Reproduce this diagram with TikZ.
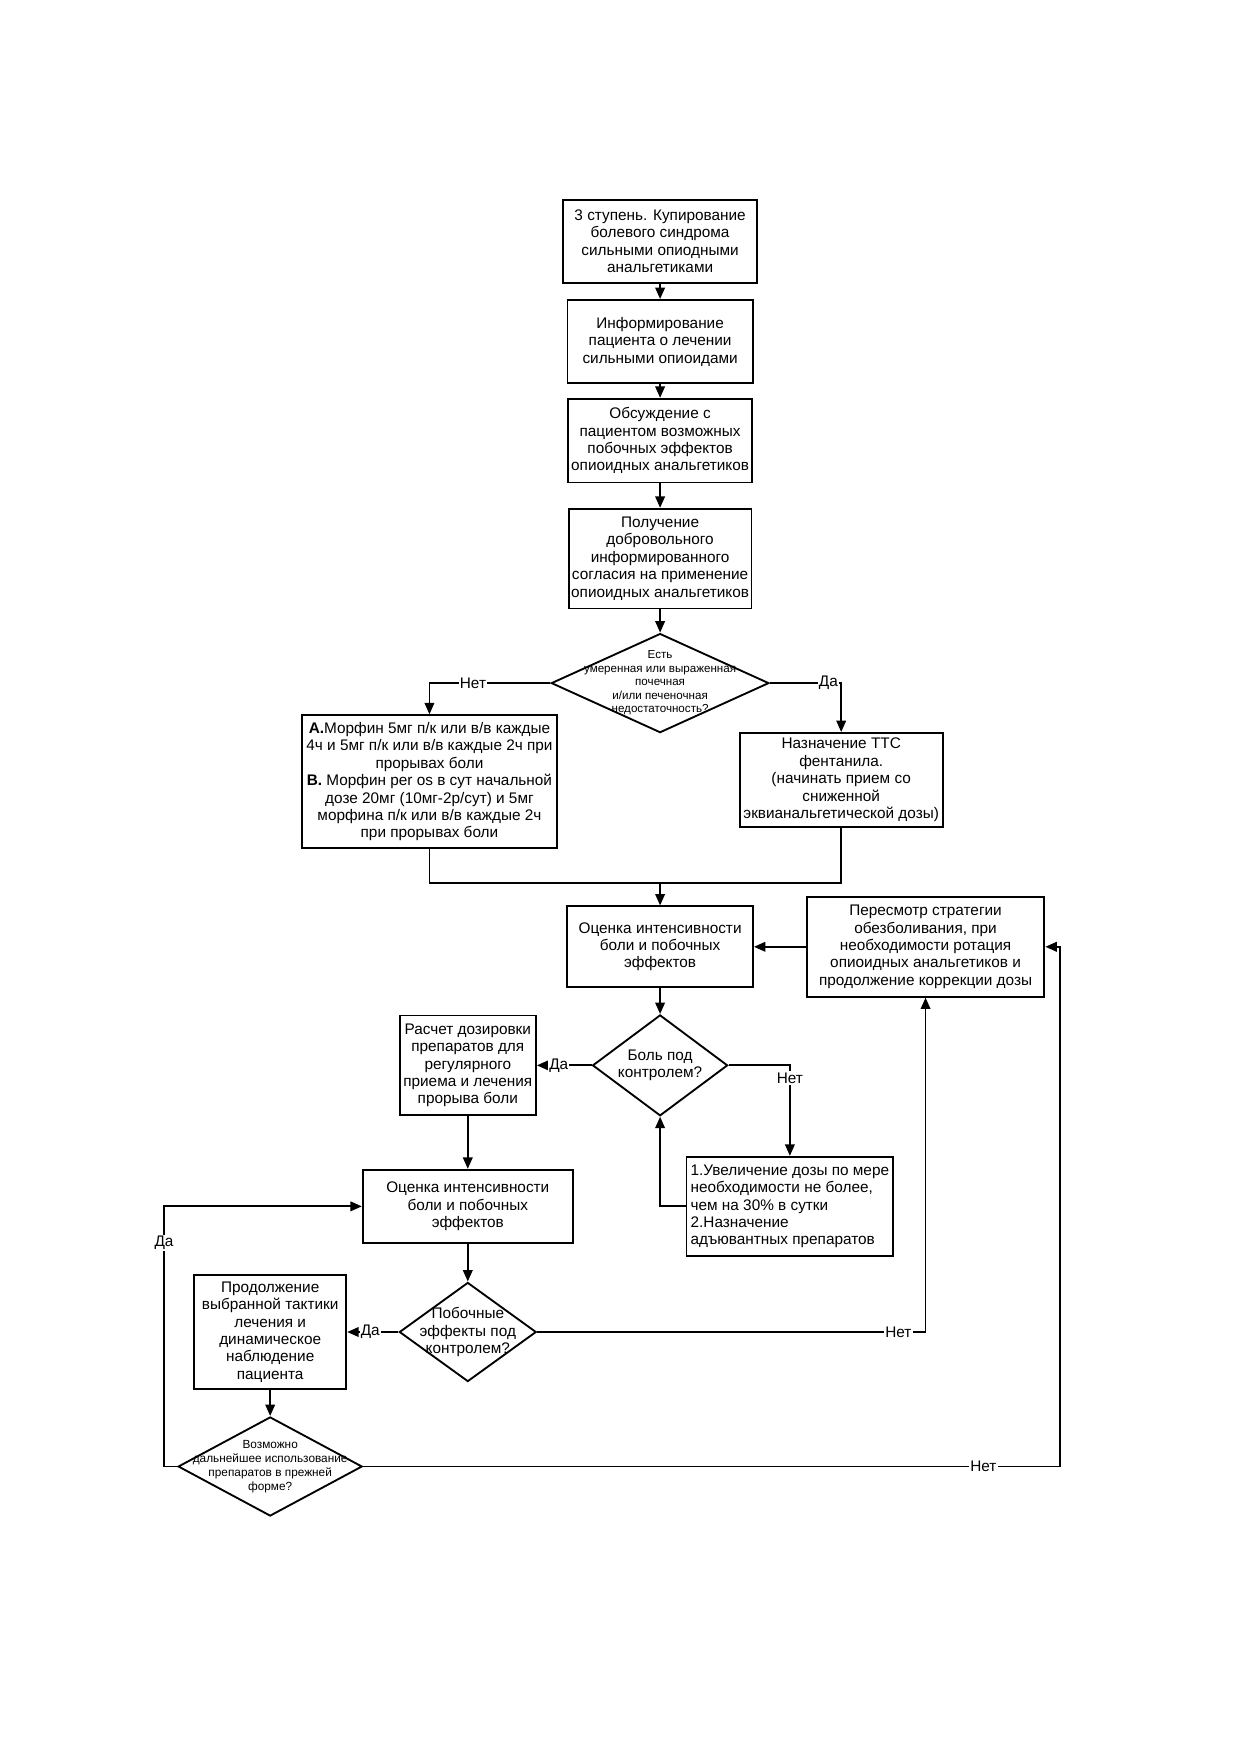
\documentclass[tikz,border=0pt]{standalone}
\usepackage{fontspec}
\setmainfont{Liberation Sans}
\usetikzlibrary{shapes.geometric,arrows.meta}

\tikzset{
  stage/.style={draw, line width=0.9pt, align=center, inner xsep=1pt, inner ysep=2pt,
    font=\fontsize{7.4}{8.4}\selectfont},
  decision/.style={draw, diamond, line width=0.9pt, inner sep=0pt},
  dectext/.style={align=center, inner sep=0pt, font=\fontsize{5.6}{6.5}\selectfont},
  answer/.style={fill=white, inner sep=0.6pt, font=\fontsize{7.4}{8.4}\selectfont},
  flow/.style={line width=0.9pt, -{Triangle[length=5.5pt,width=4.6pt]}},
  link/.style={line width=0.9pt}
}

\begin{document}
\begin{tikzpicture}
  \useasboundingbox (0,0) rectangle (21,-29.7);

  % main column
  \node[stage, minimum width=3.29cm, minimum height=1.41cm] (step3) at (11.19,-4.09)
    {3 ступень. Купирование\\болевого синдрома\\сильными опиодными\\анальгетиками};
  \node[stage, minimum width=3.14cm, minimum height=1.41cm] (inform) at (11.19,-5.79)
    {Информирование\\пациента о лечении\\сильными опиоидами};
  \node[stage, minimum width=3.12cm, minimum height=1.42cm] (discuss) at (11.19,-7.47)
    {Обсуждение с\\пациентом возможных\\побочных эффектов\\опиоидных анальгетиков};
  \node[stage, minimum width=3.10cm, minimum height=1.69cm] (consent) at (11.19,-9.47)
    {Получение\\добровольного\\информированного\\согласия на применение\\опиоидных анальгетиков};
  \node[decision, minimum width=3.69cm, minimum height=1.68cm,
    label={[dectext]center:{Есть\\умеренная или выраженная\\почечная\\и/или печеночная\\недостаточность?}}]
    (q1) at (11.19,-11.58) {};

  % two branches
  \node[stage, minimum width=4.32cm, minimum height=2.25cm] (morph) at (7.28,-13.25)
    {\textbf{А.}Морфин 5мг п/к или в/в каждые\\4ч и 5мг п/к или в/в каждые 2ч при\\прорывах боли\\\textbf{В.} Морфин per os в сут начальной\\дозе 20мг (10мг-2р/сут) и 5мг\\морфина п/к или в/в каждые 2ч\\при прорывах боли};
  \node[stage, minimum width=3.44cm, minimum height=1.59cm] (fent) at (14.26,-13.22)
    {Назначение ТТС\\фентанила.\\(начинать прием со\\сниженной\\эквианальгетической дозы)};
  \coordinate (join) at (11.19,-14.97);

  % assessment loop
  \node[stage, minimum width=3.15cm, minimum height=1.37cm] (assess1) at (11.19,-16.05)
    {Оценка интенсивности\\боли и побочных\\эффектов};
  \node[stage, minimum width=4.03cm, minimum height=1.69cm] (review) at (15.69,-16.05)
    {Пересмотр стратегии\\обезболивания, при\\необходимости ротация\\опиоидных анальгетиков и\\продолжение коррекции дозы};
  \coordinate (rloop) at (17.97,-16.05);
  \node[decision, minimum width=2.29cm, minimum height=1.71cm,
    label={[stage, draw=none, inner sep=0pt]center:{Боль под\\контролем?}}]
    (q2) at (11.19,-18.06) {};
  \node[stage, minimum width=2.31cm, minimum height=1.69cm] (dose) at (7.93,-18.06)
    {Расчет дозировки\\препаратов для\\регулярного\\приема и лечения\\прорыва боли};
  \node[stage, align=left, inner xsep=2pt, minimum width=3.46cm, minimum height=1.68cm] (raise) at (13.39,-20.45)
    {1.Увеличение дозы по мере\\необходимости не более,\\чем на 30\% в сутки\\2.Назначение\\адъювантных препаратов};

  % side effects
  \node[stage, minimum width=3.56cm, minimum height=1.24cm] (assess2) at (7.93,-20.45)
    {Оценка интенсивности\\боли и побочных\\эффектов};
  \node[decision, minimum width=2.32cm, minimum height=1.68cm,
    label={[stage, draw=none, inner sep=0pt]center:{Побочные\\эффекты под\\контролем?}}]
    (q3) at (7.93,-22.58) {};
  \node[stage, minimum width=2.58cm, minimum height=1.93cm] (cont) at (4.58,-22.58)
    {Продолжение\\выбранной тактики\\лечения и\\динамическое\\наблюдение\\пациента};
  \node[decision, minimum width=3.12cm, minimum height=1.68cm,
    label={[dectext, font=\fontsize{5.7}{6.7}\selectfont]center:{Возможно\\дальнейшее использование\\препаратов в прежней\\форме?}}]
    (q4) at (4.58,-24.86) {};
  \coordinate (lloop) at (2.78,-24.86);

  % connectors
  \draw[flow] (step3.south) -- (inform.north);
  \draw[flow] (inform.south) -- (discuss.north);
  \draw[flow] (discuss.south) -- (consent.north);
  \draw[flow] (consent.south) -- (q1.north);
  \draw[flow] (q1.west) -| node[answer, pos=0.32] {Нет} (morph.north);
  \draw[flow] (q1.east) -| node[answer, pos=0.41] {Да} (fent.north);
  \draw[link] (morph.south) |- (join) -| (fent.south);
  \draw[flow] (join) -- (assess1.north);
  \draw[flow] (review.west) -- (assess1.east);
  \draw[flow] (assess1.south) -- (q2.north);
  \draw[flow] (q2.west) -- node[answer, pos=0.6] {Да} (dose.east);
  \draw[flow] (q2.east) -| node[answer, pos=0.57] {Нет} (raise.north);
  \draw[flow] (raise.west) -| (q2.south);
  \draw[flow] (dose.south) -- (assess2.north);
  \draw[flow] (assess2.south) -- (q3.north);
  \draw[flow] (q3.west) -- node[answer, pos=0.55] {Да} (cont.east);
  \draw[flow] (q3.east) -| node[answer, pos=0.465] {Нет} (review.south);
  \draw[flow] (cont.south) -- (q4.north);
  \draw[flow] (q4.east) -| node[answer, pos=0.445] {Нет} (rloop) -- (review.east);
  \draw[flow] (q4.west) -- (lloop) |- node[answer, pos=0.43] {Да} (assess2.west);
\end{tikzpicture}
\end{document}
